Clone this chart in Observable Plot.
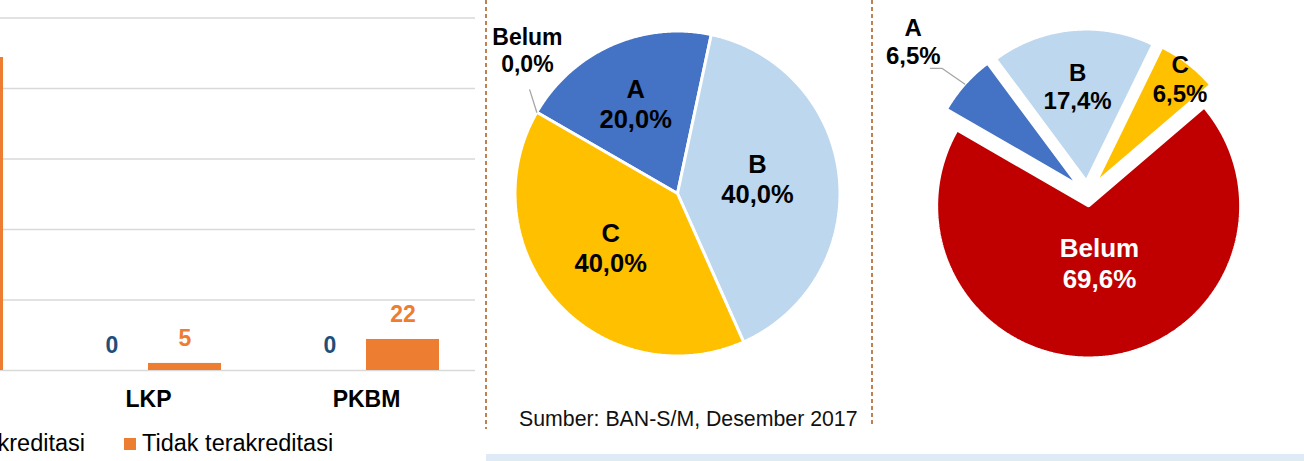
<!DOCTYPE html>
<html>
<head>
<meta charset="utf-8">
<script src="https://cdn.jsdelivr.net/npm/d3@7"></script>
<script src="https://cdn.jsdelivr.net/npm/@observablehq/plot@0.6"></script>
<style>
  html, body { margin: 0; padding: 0; background: #fff; }
  #root { position: relative; width: 1304px; height: 461px; overflow: hidden;
          font-family: "Liberation Sans", Arial, Helvetica, sans-serif; }
  #root svg { background: transparent; }
</style>
</head>
<body>
<div id="root"></div>
<script>
// ---------------- DATA ----------------
const barCategories = ["PAUD", "LKP", "PKBM"];
const barSeries = ["Terakreditasi", "Tidak terakreditasi"];
const accreditedCounts = [0, 0, 0];
const notAccreditedCounts = [222, 5, 22];
const gridTicks = [0, 50, 100, 150, 200, 250];
// categories whose labels fall inside the visible (cropped) area
const visibleCategories = ["LKP", "PKBM"];

const pieCategories = ["A", "B", "C", "Belum"];
const pieLeftPct = [20.0, 40.0, 40.0, 0.0];
const pieRightPct = [6.5, 17.4, 6.5, 69.6];

const sourceText = "Sumber: BAN-S/M, Desember 2017";

// ---------------- STYLE ----------------
const FONT = '"Liberation Sans", Arial, Helvetica, sans-serif';
const barColors = ["#1f4e79", "#ed7d31"];
const labelColors = ["#1f4e79", "#ed7d31"];
const pieColors = ["#4472c4", "#bdd7ee", "#ffc000", "#c00000"];
const root = document.getElementById("root");

function place(el, left, top) {
  el.style.position = "absolute";
  el.style.left = left + "px";
  el.style.top = top + "px";
  root.appendChild(el);
  return el;
}
const fmtPct = v => v.toFixed(1).replace(".", ",") + "%";

// ---------------- BAR CHART ----------------
const barRows = barCategories.flatMap((c, i) => [
  {cat: c, series: barSeries[0], value: accreditedCounts[i]},
  {cat: c, series: barSeries[1], value: notAccreditedCounts[i]}
]);
const rowsA = barRows.filter(d => d.series === barSeries[0]);
const rowsB = barRows.filter(d => d.series === barSeries[1]);
const isVisible = d => visibleCategories.includes(d.cat);

const barPlot = Plot.plot({
  width: 654, height: 461,
  marginLeft: 0, marginRight: 0, marginTop: 17.5, marginBottom: 91,
  style: {fontFamily: FONT, fontSize: "23px", fontWeight: "bold", color: "#000", background: "transparent", overflow: "visible"},
  x: {domain: barCategories, ticks: visibleCategories, paddingInner: 0.33, paddingOuter: 0.165,
      tickSize: 0, tickPadding: 20, label: null},
  y: {domain: [0, 250], axis: null},
  color: {domain: barSeries, range: barColors},
  marks: [
    Plot.gridY(gridTicks, {stroke: "#d9d9d9", strokeOpacity: 1, strokeWidth: 1.5}),
    Plot.barY(rowsA, {x: "cat", y: "value", fill: "series", insetRight: 73}),
    Plot.barY(rowsB, {x: "cat", y: "value", fill: "series", insetLeft: 73}),
    Plot.text(rowsA.filter(isVisible), {x: "cat", y: "value", text: d => String(d.value), dx: -36.5, dy: -25,
      fill: labelColors[0], fontSize: 23, fontWeight: "bold"}),
    Plot.text(rowsB.filter(isVisible), {x: "cat", y: "value", text: d => String(d.value), dx: 36.5, dy: -25,
      fill: labelColors[1], fontSize: 23, fontWeight: "bold"})
  ]
});
place(barPlot, -179, 0);

// legend (below the bar chart)
function legendItem(color, text) {
  const d = document.createElement("div");
  d.style.display = "flex";
  d.style.alignItems = "center";
  d.style.font = `23.5px/26px ${FONT}`;
  d.style.color = "#000";
  d.style.whiteSpace = "nowrap";
  const sw = document.createElement("span");
  sw.style.cssText = `display:inline-block;width:12px;height:12px;background:${color};margin-right:6px;margin-top:2px;`;
  const t = document.createElement("span");
  t.textContent = text;
  d.appendChild(sw); d.appendChild(t);
  return d;
}
const leg1 = legendItem(barColors[0], barSeries[0]);
leg1.style.position = "absolute"; leg1.style.right = (1304 - 85) + "px"; leg1.style.top = "429.5px";
root.appendChild(leg1);
place(legendItem(barColors[1], barSeries[1]), 124, 429.5);

// ---------------- PIE CHARTS ----------------
function piePlot(values, cfg) {
  const start = -Math.PI / 3;
  const arcs = d3.pie().sort(null).value(d => d).startAngle(start).endAngle(start + 2 * Math.PI)(values);
  const pts = [];
  arcs.forEach((a, i) => {
    if (!(a.data > 0)) return;
    const mid = (a.startAngle + a.endAngle) / 2;
    const ox = cfg.cx + cfg.explode * Math.sin(mid), oy = cfg.cy - cfg.explode * Math.cos(mid);
    pts.push({cat: pieCategories[i], x: ox, y: oy});
    const n = Math.max(2, Math.ceil((a.endAngle - a.startAngle) / (Math.PI / 360)));
    for (let k = 0; k <= n; k++) {
      const t = a.startAngle + (a.endAngle - a.startAngle) * k / n;
      pts.push({cat: pieCategories[i], x: ox + cfg.r * Math.sin(t), y: oy - cfg.r * Math.cos(t)});
    }
  });
  const labels = arcs.map((a, i) => {
    const mid = (a.startAngle + a.endAngle) / 2 + cfg.labelShift[i] * Math.PI / 180;
    const d = cfg.labelDist[i];
    return {i, x: cfg.cx + d * Math.sin(mid), y: cfg.cy - d * Math.cos(mid),
            text: pieCategories[i] + "\n" + fmtPct(values[i])};
  });
  const leaders = [];
  cfg.leaders.forEach((ld, j) => {
    const a = arcs[ld.i];
    const mid = (a.startAngle + a.endAngle) / 2;
    const rr = cfg.r + cfg.explode;
    leaders.push({k: j, x: cfg.cx + rr * Math.sin(mid), y: cfg.cy - rr * Math.cos(mid)});
    ld.via.forEach(([dx, dy]) => leaders.push({k: j, x: labels[ld.i].x + dx, y: labels[ld.i].y + dy}));
  });
  const marks = [
    Plot.line(pts, {x: "x", y: "y", z: "cat", fill: "cat", stroke: "white", strokeWidth: 3,
      strokeLinejoin: "miter", curve: "linear-closed"}),
    Plot.line(leaders, {x: "x", y: "y", z: "k", stroke: "#a6a6a6", strokeWidth: 1.3})
  ];
  labels.forEach(l => {
    marks.push(Plot.text([l], {x: "x", y: "y", text: "text", fill: cfg.labelFill[l.i],
      fontSize: cfg.labelSize[l.i], fontWeight: "bold", lineHeight: 1.18}));
  });
  return Plot.plot({
    width: cfg.width, height: cfg.height,
    marginLeft: 0, marginRight: 0, marginTop: 0, marginBottom: 0,
    style: {fontFamily: FONT, background: "transparent", overflow: "visible"},
    x: {domain: [0, cfg.width], range: [0, cfg.width], axis: null},
    y: {domain: [0, cfg.height], range: [0, cfg.height], axis: null},
    color: {domain: pieCategories, range: pieColors},
    marks
  });
}

const pieLeft = piePlot(pieLeftPct, {
  width: 384, height: 440, cx: 190, cy: 193, r: 162.5, explode: 0,
  labelDist: [99, 81.5, 86, 207.6], labelShift: [-1, -5, 3, 13.7],
  labelSize: [25.5, 25.5, 25.5, 23], labelFill: ["#000", "#000", "#000", "#000"],
  leaders: [{i: 3, via: [[2.3, 39.8]]}]
});
place(pieLeft, 487, 0);

const pieRight = piePlot(pieRightPct, {
  width: 431, height: 440, cx: 214, cy: 193, r: 152, explode: 12.5,
  labelDist: [231.6, 108, 147.6, 70], labelShift: [-0.5, 0, 1.1, -4.6],
  labelSize: [24, 24, 24, 26], labelFill: ["#000", "#000", "#000", "#fff"],
  leaders: [{i: 0, via: [[29, 27.5], [17.3, 27.5]]}]
});
place(pieRight, 873, 0);

// ---------------- DECORATION ----------------
function dashed(left, height) {
  const d = document.createElement("div");
  d.style.cssText = `width:1.6px;height:${height}px;background:repeating-linear-gradient(to bottom,#bf8152 0 4px,transparent 4px 7px);`;
  place(d, left, 0);
}
dashed(485, 429);
dashed(871, 424);

const band = document.createElement("div");
band.style.cssText = "width:818px;height:7px;background:#deebf7;";
place(band, 486, 454);

const src = document.createElement("div");
src.textContent = sourceText;
src.style.cssText = `font:21.3px/24px ${FONT};color:#111;white-space:nowrap;`;
place(src, 519, 407.3);
</script>
</body>
</html>
